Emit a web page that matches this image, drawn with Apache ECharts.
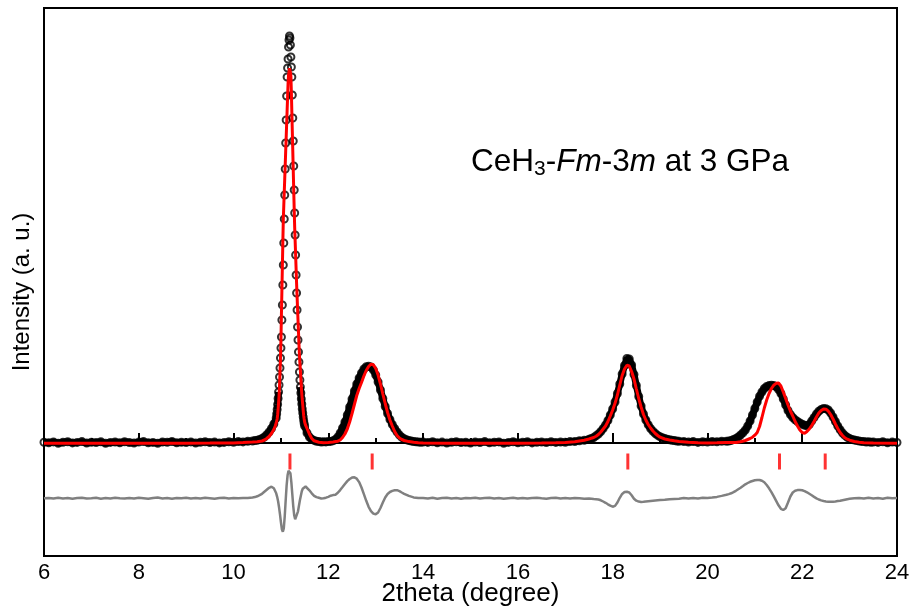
<!DOCTYPE html>
<html><head><meta charset="utf-8">
<script src="https://cdn.jsdelivr.net/npm/echarts@6/dist/echarts.min.js"></script>
<style>html,body{margin:0;padding:0;background:#fff}#c{width:914px;height:612px}</style>
</head><body><div id="c"></div>
<script>
// ---- data (x: 2theta in degree, y: intensity in arbitrary counts) ----
const obsPts = [
[6.0,8],[6.1,2],[6.2,11],[6.3,-2],[6.4,7],[6.5,13],[6.6,1],[6.7,6],[6.8,14],[6.9,-1],
[7.0,8],[7.1,4],[7.2,12],[7.3,-3],[7.4,6],[7.5,10],[7.6,2],[7.7,13],[7.8,5],[7.9,0],
[8.0,9],[8.1,14],[8.2,3],[8.3,6],[8.4,-2],[8.5,10],[8.6,7],[8.7,15],[8.8,2],[8.9,8],
[9.0,4],[9.1,11],[9.2,-1],[9.3,7],[9.4,13],[9.5,5],[9.6,9],[9.7,1],[9.8,6],[9.9,12],
[10.0,8],[10.1,14],[10.2,11],[10.3,18],[10.4,20],[10.45,24],[10.5,28],[10.55,35],[10.6,45],[10.65,60],
[10.7,82],[10.75,110],[10.8,145],[10.85,190],[10.9,250],
[10.91,290],[10.92,335],[10.93,385],[10.94,445],[10.95,510],[10.96,580],[10.97,660],[10.98,750],[10.99,850],
[11.00,950],[11.01,1060],[11.02,1230],[11.03,1380],[11.04,1580],[11.05,1780],[11.06,2000],[11.07,2240],[11.08,2480],[11.09,2740],
[11.10,3000],[11.11,3230],[11.12,3470],[11.13,3660],[11.14,3750],[11.15,3840],[11.16,3960],[11.17,4030],[11.18,4070],[11.19,4050],
[11.20,3980],[11.21,3860],[11.22,3760],[11.23,3660],[11.24,3480],[11.25,3250],[11.26,3020],[11.27,2770],[11.28,2530],[11.29,2300],
[11.30,2080],[11.31,1880],[11.32,1680],[11.33,1500],[11.34,1330],[11.35,1160],[11.36,1030],[11.37,910],[11.38,810],[11.39,710],
[11.40,630],[11.41,560],[11.42,500],[11.43,440],[11.44,390],[11.45,340],[11.46,300],[11.47,260],[11.48,225],[11.49,195],
[11.50,170],[11.55,100],[11.60,60],[11.65,38],[11.70,26],[11.75,18],[11.80,14],[11.85,10],[11.90,13],[11.95,11],
[12.00,15],[12.05,16],[12.10,22],[12.15,35],[12.20,60],[12.25,100],[12.30,150],[12.35,210],[12.40,280],[12.45,360],
[12.50,440],[12.55,520],[12.60,590],[12.65,650],[12.70,700],[12.75,740],[12.80,762],[12.85,768],[12.90,760],[12.95,730],
[13.00,680],[13.05,610],[13.10,530],[13.15,445],[13.20,365],[13.25,295],[13.30,235],[13.35,185],[13.40,145],[13.45,110],
[13.50,80],[13.55,58],[13.60,42],[13.65,32],[13.70,25],[13.75,20],[13.80,15],[13.85,12],[13.90,10],[13.95,8],
[14.0,9],[14.1,6],[14.2,12],[14.3,3],[14.4,9],[14.5,-1],[14.6,7],[14.7,13],[14.8,4],[14.9,8],
[15.0,0],[15.1,10],[15.2,5],[15.3,14],[15.4,2],[15.5,7],[15.6,11],[15.7,-2],[15.8,6],[15.9,12],
[16.0,3],[16.1,8],[16.2,13],[16.3,1],[16.4,7],[16.5,10],[16.6,4],[16.7,12],[16.8,6],[16.9,9],
[17.0,8],[17.1,14],[17.2,15],[17.3,22],[17.4,28],[17.5,38],[17.55,45],[17.60,55],[17.65,72],[17.70,90],
[17.75,115],[17.80,145],[17.85,180],[17.90,225],[17.95,280],[18.00,340],[18.05,410],[18.10,495],[18.15,590],[18.20,690],
[18.25,775],[18.30,845],[18.35,840],[18.40,780],[18.45,685],[18.50,575],[18.55,465],[18.60,370],[18.65,290],[18.70,230],
[18.75,182],[18.80,145],[18.85,118],[18.90,95],[18.95,76],[19.00,62],[19.05,52],[19.10,44],[19.15,38],[19.20,32],
[19.25,28],[19.30,24],[19.35,20],[19.40,18],[19.5,15],[19.6,10],[19.7,14],[19.8,6],[19.9,12],[20.0,9],
[20.1,15],[20.2,13],[20.3,17],[20.4,18],[20.45,20],[20.50,25],[20.55,35],[20.60,45],[20.65,60],[20.70,80],
[20.75,103],[20.80,130],[20.85,170],[20.90,220],[20.95,280],[21.00,345],[21.05,410],[21.10,468],[21.15,510],[21.20,545],
[21.25,565],[21.30,574],[21.35,577],[21.40,574],[21.45,562],[21.50,535],[21.55,495],[21.60,440],[21.65,380],[21.70,325],
[21.75,285],[21.80,255],[21.85,232],[21.90,215],[21.95,200],[22.00,188],[22.05,178],[22.10,172],[22.15,185],[22.20,220],
[22.25,255],[22.30,290],[22.35,318],[22.40,336],[22.45,345],[22.50,343],[22.55,330],[22.60,300],[22.65,260],[22.70,215],
[22.75,170],[22.80,132],[22.85,100],[22.90,76],[22.95,58],[23.00,45],[23.05,36],[23.10,30],[23.15,24],[23.20,20],
[23.25,16],[23.30,14],[23.35,10],[23.40,12],[23.45,8],[23.50,10],[23.6,6],[23.7,12],[23.8,3],[23.9,9],[24.0,5]
];

const calcPts = [
[6.0,-3],[7.0,-3],[8.0,-3],[9.0,-2],[9.5,-1],[10.0,1],[10.2,4],[10.4,9],[10.5,12],[10.6,20],
[10.65,30],[10.7,45],[10.75,65],[10.8,95],[10.85,135],[10.88,170],[10.9,200],[10.91,218],[10.92,240],[10.93,280],
[10.94,335],[10.95,400],[10.96,470],[10.97,570],[10.98,706],[10.99,840],[11.00,1032],[11.01,1280],[11.02,1520],[11.03,1760],
[11.04,2004],[11.05,2239],[11.06,2373],[11.07,2510],[11.08,2644],[11.09,2778],[11.10,2916],[11.11,3047],[11.12,3185],[11.13,3320],
[11.14,3454],[11.15,3591],[11.16,3677],[11.17,3711],[11.18,3747],[11.19,3743],[11.20,3705],[11.21,3668],[11.22,3507],[11.23,3310],
[11.24,3115],[11.25,2920],[11.26,2720],[11.27,2525],[11.28,2330],[11.29,2154],[11.30,2016],[11.31,1878],[11.32,1740],[11.33,1598],
[11.34,1474],[11.35,1353],[11.36,1230],[11.37,1115],[11.38,992],[11.39,880],[11.40,801],[11.41,723],[11.42,644],[11.43,565],
[11.44,490],[11.45,434],[11.46,380],[11.47,324],[11.48,275],[11.49,240],[11.50,210],[11.52,178],[11.55,145],[11.60,90],
[11.65,45],[11.70,22],[11.80,8],[11.90,3],[12.0,6],[12.05,8],[12.1,10],[12.15,14],[12.2,18],[12.25,30],
[12.3,55],[12.35,90],[12.4,140],[12.45,210],[12.5,295],[12.55,385],[12.6,475],[12.65,545],[12.7,605],[12.75,670],
[12.8,725],[12.85,765],[12.9,788],[12.92,790],[12.95,782],[13.0,745],[13.05,680],[13.1,590],[13.15,490],[13.2,395],
[13.25,305],[13.3,230],[13.35,170],[13.4,115],[13.45,75],[13.5,50],[13.55,35],[13.6,25],[13.7,14],[13.8,7],
[13.9,3],[14.0,0],[14.5,-3],[15.0,-3],[16.0,-3],[16.5,-1],[16.8,2],[17.0,5],[17.2,12],[17.4,28],
[17.5,40],[17.55,48],[17.6,55],[17.65,68],[17.7,85],[17.75,110],[17.8,140],[17.85,170],[17.9,215],[17.95,270],
[18.0,330],[18.05,397],[18.1,480],[18.15,580],[18.2,675],[18.25,740],[18.3,778],[18.32,780],[18.35,770],[18.4,715],
[18.45,640],[18.5,540],[18.55,445],[18.6,360],[18.65,285],[18.7,230],[18.75,185],[18.8,150],[18.85,120],[18.9,95],
[18.95,75],[19.0,58],[19.1,40],[19.2,30],[19.3,22],[19.4,15],[19.6,8],[19.8,3],[20.0,1],[20.2,2],
[20.4,4],[20.6,5],[20.7,12],[20.8,25],[20.9,45],[20.95,58],[21.0,78],[21.05,105],[21.1,165],[21.15,255],
[21.2,350],[21.25,430],[21.3,495],[21.35,545],[21.4,578],[21.45,597],[21.5,600],[21.55,570],[21.6,510],[21.65,445],
[21.7,380],[21.75,320],[21.8,270],[21.85,215],[21.9,170],[21.95,130],[22.0,105],[22.05,97],[22.1,115],[22.15,140],
[22.2,175],[22.25,215],[22.3,260],[22.35,300],[22.4,325],[22.45,340],[22.48,342],[22.5,338],[22.55,318],[22.6,285],
[22.65,240],[22.7,190],[22.75,145],[22.8,105],[22.85,75],[22.9,52],[22.95,38],[23.0,28],[23.1,15],[23.2,8],
[23.3,3],[23.5,0],[24.0,-3]
];

// residual (obs - calc)
const diffPts = [
[6.0,0],[6.1,4],[6.2,-3],[6.3,5],[6.4,-1],[6.5,3],[6.6,-5],[6.7,2],[6.8,6],[6.9,-2],
[7.0,1],[7.1,5],[7.2,-4],[7.3,3],[7.4,-1],[7.5,6],[7.6,0],[7.7,-3],[7.8,4],[7.9,-2],
[8.0,5],[8.1,1],[8.2,-4],[8.3,3],[8.4,7],[8.5,-1],[8.6,2],[8.7,-5],[8.8,4],[8.9,0],
[9.0,6],[9.1,-2],[9.2,3],[9.3,-3],[9.4,5],[9.5,1],[9.6,-4],[9.7,2],[9.8,6],[9.9,-1],
[10.0,3],[10.1,0],[10.2,4],[10.3,2],[10.4,8],[10.45,12],[10.5,20],[10.55,32],[10.6,45],[10.65,65],
[10.7,85],[10.75,105],[10.8,116],[10.85,100],[10.9,50],[10.92,15],[10.94,-30],[10.96,-90],[10.98,-160],[11.0,-240],
[11.02,-310],[11.04,-334],[11.06,-300],[11.08,-180],[11.1,-20],[11.12,130],[11.14,230],[11.16,275],[11.18,283],[11.2,250],
[11.22,160],[11.24,40],[11.26,-80],[11.28,-170],[11.3,-210],[11.32,-215],[11.34,-190],[11.36,-130],[11.38,-75],[11.4,-20],
[11.42,25],[11.44,70],[11.46,95],[11.48,110],[11.52,118],[11.56,105],[11.6,80],[11.65,50],[11.7,25],[11.75,12],
[11.8,5],[11.85,-2],[11.9,0],[11.95,6],[12.0,15],[12.05,26],[12.1,32],[12.15,36],[12.2,55],[12.25,82],
[12.3,112],[12.35,143],[12.4,172],[12.45,193],[12.5,207],[12.55,210],[12.6,196],[12.65,162],[12.7,108],[12.75,42],
[12.8,-25],[12.85,-85],[12.9,-128],[12.95,-153],[13.0,-160],[13.05,-142],[13.1,-97],[13.15,-42],[13.2,8],[13.25,43],
[13.3,63],[13.35,74],[13.4,80],[13.45,81],[13.5,72],[13.55,58],[13.6,45],[13.7,24],[13.8,9],[13.9,2],
[14.0,4],[14.1,-2],[14.2,5],[14.3,-4],[14.4,3],[14.5,6],[14.6,-1],[14.7,2],[14.8,-5],[14.9,4],
[15.0,0],[15.1,6],[15.2,-3],[15.3,2],[15.4,5],[15.5,-2],[15.6,3],[15.7,-4],[15.8,1],[15.9,6],
[16.0,-1],[16.1,4],[16.2,-3],[16.3,2],[16.4,5],[16.5,0],[16.6,-4],[16.7,3],[16.8,6],[16.9,-2],
[17.0,2],[17.1,-3],[17.2,4],[17.3,0],[17.4,-4],[17.5,-2],[17.6,-8],[17.7,-12],[17.75,-20],[17.8,-32],
[17.85,-45],[17.9,-60],[17.95,-74],[18.0,-84],[18.05,-76],[18.1,-42],[18.15,5],[18.2,44],[18.25,63],[18.3,66],
[18.35,58],[18.4,30],[18.45,-4],[18.5,-24],[18.55,-33],[18.6,-36],[18.65,-34],[18.7,-31],[18.8,-26],[18.9,-22],
[19.0,-18],[19.1,-15],[19.2,-9],[19.3,-6],[19.4,-4],[19.5,2],[19.6,-3],[19.7,4],[19.8,-1],[19.9,5],
[20.0,3],[20.1,8],[20.2,14],[20.3,24],[20.4,35],[20.45,42],[20.5,50],[20.55,62],[20.6,75],[20.65,90],
[20.7,105],[20.75,122],[20.8,140],[20.85,153],[20.9,165],[20.95,173],[21.0,180],[21.05,183],[21.1,183],[21.15,175],
[21.2,160],[21.25,133],[21.3,100],[21.35,62],[21.4,20],[21.45,-25],[21.5,-70],[21.55,-105],[21.6,-117],[21.65,-100],
[21.7,-42],[21.75,18],[21.8,58],[21.85,75],[21.9,82],[21.95,83],[22.0,80],[22.05,72],[22.1,60],[22.15,45],
[22.2,30],[22.25,14],[22.3,0],[22.35,-12],[22.4,-21],[22.45,-27],[22.5,-31],[22.55,-34],[22.6,-35],[22.65,-34],
[22.7,-32],[22.75,-28],[22.8,-24],[22.85,-19],[22.9,-14],[22.95,-9],[23.0,-5],[23.05,-2],[23.1,0],[23.2,4],
[23.3,-3],[23.4,5],[23.5,-1],[23.6,3],[23.7,-4],[23.8,6],[23.9,0],[24.0,2]
];

// Bragg reflection positions of Fm-3m CeH3 (2theta, degree)
const reflPos = [11.19, 12.925, 18.32, 21.52, 22.485];

// ---- layout constants (not data) ----
const diffOffset = -553;   // vertical offset of residual curve
const reflLevel = -185;    // vertical level of reflection ticks
const mainLo = 10.955, mainHi = 11.405; // where individual circles are shown without the dense band
const FONT = 'Liberation Sans';

const bandPts = obsPts.map(p => (p[0] > mainLo && p[0] < mainHi) ? [p[0], '-'] : p);

const chart = echarts.init(document.getElementById('c'), null, {renderer: 'canvas'});
chart.setOption({
  animation: false,
  backgroundColor: '#fff',
  grid: {left: 44, right: 17, top: 8, bottom: 56, containLabel: false, outerBoundsMode: 'none',
         show: true, borderColor: '#000', borderWidth: 2},
  title: {
    text: '{n|CeH}{s|3}{n|-}{i|Fm}{n|-3}{i|m}{n| at 3 GPa}',
    left: 471, top: 144, padding: 0,
    textStyle: {
      fontWeight: 'normal',
      rich: {
        n: {fontFamily: FONT, fontSize: 31.5, fontWeight: 'normal', color: '#000', lineHeight: 36},
        s: {fontFamily: FONT, fontSize: 21, fontWeight: 'normal', color: '#000', lineHeight: 12, verticalAlign: 'bottom'},
        i: {fontFamily: FONT, fontSize: 31.5, fontWeight: 'normal', color: '#000', fontStyle: 'italic', lineHeight: 36}
      }
    }
  },
  xAxis: {
    type: 'value', min: 6, max: 24, interval: 2,
    name: '2theta (degree)', nameLocation: 'middle', nameGap: 25, nameMoveOverlap: false,
    nameTextStyle: {fontFamily: FONT, fontSize: 26, color: '#000'},
    axisLine: {show: true, lineStyle: {color: '#000', width: 2}},
    axisTick: {show: true, inside: true, length: 10, lineStyle: {color: '#000', width: 2}},
    minorTick: {show: true, splitNumber: 2, length: 5, lineStyle: {color: '#000', width: 2}},
    axisLabel: {fontFamily: FONT, fontSize: 22, color: '#000', margin: 6},
    splitLine: {show: false}
  },
  yAxis: {
    type: 'value', min: -1130, max: 4350,
    name: 'Intensity (a. u.)', nameLocation: 'middle', nameGap: 10, nameMoveOverlap: false,
    nameTextStyle: {fontFamily: FONT, fontSize: 24, color: '#000', padding: [0, 20, 0, 0]},
    axisLine: {show: true, lineStyle: {color: '#000', width: 2}},
    axisTick: {show: false}, axisLabel: {show: false}, splitLine: {show: false}
  },
  series: [
    {name: 'obs', type: 'scatter', data: obsPts, symbol: 'circle', symbolSize: 7,
     itemStyle: {color: 'rgba(0,0,0,0)', borderColor: '#000', borderWidth: 2}, z: 2, silent: true},
    {name: 'obsBand', type: 'line', data: bandPts, symbol: 'none', connectNulls: false,
     lineStyle: {color: '#000', width: 7}, z: 3, silent: true},
    {name: 'calc', type: 'line', data: calcPts, symbol: 'none',
     lineStyle: {color: '#ff0000', width: 3}, z: 4, silent: true},
    {name: 'diff', type: 'line', data: diffPts.map(p => [p[0], p[1] + diffOffset]), symbol: 'none',
     lineStyle: {color: '#808080', width: 2.5}, z: 4, silent: true},
    {name: 'refl', type: 'scatter', data: reflPos.map(x => [x, reflLevel]), symbol: 'rect', symbolSize: [3, 16],
     itemStyle: {color: '#ff0000'}, z: 5, silent: true}
  ]
});
</script></body></html>
